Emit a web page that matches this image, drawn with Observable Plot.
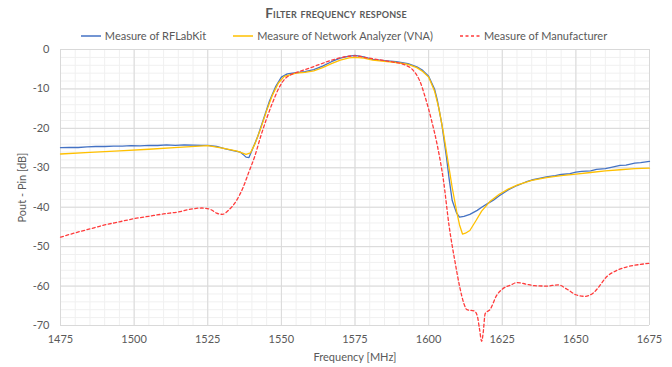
<!DOCTYPE html>
<html>
<head>
<meta charset="utf-8">
<script src="https://cdn.jsdelivr.net/npm/d3@7"></script>
<script src="https://cdn.jsdelivr.net/npm/@observablehq/plot@0.6"></script>
<style>
  body { margin: 0; background: #fff; font-family: Lato, "Open Sans", sans-serif; color: #595959; }
  #wrap { width: 672px; height: 367px; overflow: hidden; }
  #title { height: 26px; line-height: 27px; text-align: center; font-size: 13.5px; font-weight: bold; font-variant: small-caps; color: #595959; letter-spacing: 0.2px; }
  #legend { height: 16px; box-sizing: border-box; padding-top: 3px; display: flex; justify-content: center; align-items: center; gap: 27px; font-size: 11px; padding-left: 16px; }
  .item { display: flex; align-items: center; gap: 4px; }
  .item svg { display: block; }
</style>
</head>
<body>
<div id="wrap">
  <div id="title">Filter frequency response</div>
  <div id="legend"></div>
  <div id="chart"></div>
</div>
<script>
// Series names
const seriesNames = ["Measure of RFLabKit", "Measure of Network Analyzer (VNA)", "Measure of Manufacturer"];

// Measure of RFLabKit: frequency [MHz], value [dB]
const rflabF = [1475,1478,1481,1484,1487,1490,1493,1496,1499,1502,1505,1508,1511,1514,1517,1520,1523,1525,1528,1531,1534,1536,1537,1538,1539,1540,1542,1544,1546,1548,1550,1552,1555,1558,1561,1564,1567,1570,1573,1575,1578,1581,1585,1589,1593,1596,1598,1600,1602,1603,1604.5,1606,1607,1608,1609.5,1610.5,1612,1614,1616.5,1618,1620,1622,1624,1627,1630,1633,1635,1638,1640,1643,1645,1648,1650,1652,1655,1657,1660,1662,1665,1667,1670,1672,1675];
const rflabV = [-24.9,-24.8,-24.85,-24.7,-24.6,-24.6,-24.5,-24.5,-24.4,-24.45,-24.3,-24.35,-24.2,-24.3,-24.2,-24.25,-24.3,-24.3,-24.6,-25.2,-25.7,-26.0,-26.6,-27.3,-27.4,-25.6,-22.0,-17.5,-13.0,-9.5,-7.0,-6.2,-5.9,-5.6,-5.1,-4.2,-3.1,-2.2,-1.7,-1.5,-1.9,-2.5,-2.8,-3.1,-3.6,-4.4,-5.3,-6.8,-10.0,-13.0,-19.0,-27.0,-33.0,-38.3,-41.5,-42.5,-42.3,-41.8,-40.8,-40.0,-39.1,-38.2,-37.1,-35.6,-34.5,-33.6,-33.1,-32.6,-32.3,-32.0,-31.7,-31.5,-31.1,-30.9,-30.8,-30.4,-30.2,-29.9,-29.4,-29.3,-28.8,-28.7,-28.4];

// Measure of Network Analyzer (VNA)
const vnaF = [1475,1485,1495,1505,1515,1525,1530,1535,1538,1539.5,1541,1543,1545,1547,1549,1551,1555,1558,1561,1564,1567,1570,1573,1575,1578,1581,1585,1589,1593,1596,1598,1600,1602,1603.5,1605,1606.5,1608,1609.5,1610.5,1611.5,1612.5,1614,1616,1618,1621,1624,1627,1630,1635,1640,1645,1650,1655,1660,1665,1670,1675];
const vnaV = [-26.5,-26.1,-25.7,-25.3,-24.8,-24.4,-25.0,-25.8,-26.6,-26.2,-24.0,-20.0,-15.5,-11.5,-8.5,-6.8,-6.0,-5.8,-5.4,-4.6,-3.6,-2.7,-2.1,-2.0,-2.2,-2.7,-3.0,-3.3,-3.8,-4.6,-5.6,-7.0,-10.5,-15.0,-21.0,-28.0,-35.0,-41.0,-44.5,-46.8,-46.6,-45.9,-43.5,-41.0,-38.4,-36.7,-35.4,-34.4,-33.2,-32.5,-32.0,-31.6,-31.2,-30.8,-30.5,-30.2,-30.1];

// Measure of Manufacturer
const manuF = [1475,1480,1485,1490,1495,1500,1505,1510,1515,1520,1523,1526,1528,1530,1532,1535,1537,1539,1541,1543,1545,1547,1549,1551,1553,1556,1560,1564,1568,1572,1575,1579,1584,1588,1592,1595,1597,1599,1601,1603,1605,1607,1609,1610.5,1612,1613,1615.5,1616.5,1617.3,1618,1618.5,1619.2,1621,1623,1625,1628,1630,1633,1636,1640,1644,1647,1650,1653,1656,1658,1660,1664,1668,1672,1675];
const manuV = [-47.6,-46.5,-45.5,-44.5,-43.7,-42.9,-42.3,-41.7,-41.2,-40.4,-40.2,-40.6,-41.5,-41.8,-40.8,-38.0,-35.0,-31.0,-27.0,-22.0,-17.5,-13.5,-10.0,-7.6,-6.5,-5.6,-4.6,-3.5,-2.5,-1.8,-1.6,-2.1,-2.7,-3.2,-3.9,-5.5,-8.0,-12.5,-18.0,-24.5,-33.0,-45.0,-54.0,-60.0,-64.5,-66.0,-66.3,-67.5,-71.0,-74.0,-72.0,-67.0,-65.8,-62.5,-60.8,-59.7,-59.1,-59.5,-59.9,-60.0,-59.7,-60.8,-62.2,-62.6,-61.7,-60.0,-58.0,-56.0,-55.0,-54.5,-54.2];

// Ticks
const xTicks = [1475,1500,1525,1550,1575,1600,1625,1650,1675];
const yTicks = [0,-10,-20,-30,-40,-50,-60,-70];

const colors = ["#4472C4", "#FFC000", "#FF3B3B"];

const rows = [
  ...rflabF.map((f,i) => ({f, v: rflabV[i], s: seriesNames[0]})),
  ...vnaF.map((f,i) => ({f, v: vnaV[i], s: seriesNames[1]})),
  ...manuF.map((f,i) => ({f, v: manuV[i], s: seriesNames[2]}))
];

const xMinor = d3.range(1475, 1676, 5);
const yMinor = d3.range(-70, 1, 2);

const chart = Plot.plot({
  width: 672,
  height: 325,
  marginTop: 7,
  marginBottom: 42,
  marginLeft: 60,
  marginRight: 23,
  style: { fontFamily: "Lato, 'Open Sans', sans-serif", fontSize: "11px", color: "#595959", background: "#fff" },
  x: { domain: [1475, 1675] },
  y: { domain: [-70, 0] },
  marks: [
    Plot.ruleX(xMinor, { stroke: "#f0f0f0", strokeWidth: 1 }),
    Plot.ruleY(yMinor, { stroke: "#f0f0f0", strokeWidth: 1 }),
    Plot.ruleX(xTicks, { stroke: "#d9d9d9", strokeWidth: 1 }),
    Plot.ruleY(yTicks, { stroke: "#d9d9d9", strokeWidth: 1 }),
    Plot.axisX({ ticks: xTicks, tickSize: 0, tickPadding: 10, tickFormat: d => String(d), label: "Frequency [MHz]", labelAnchor: "center", labelArrow: "none", labelOffset: 35, fill: "#595959" }),
    Plot.axisY({ ticks: yTicks, tickSize: 0, tickPadding: 11, tickFormat: d => String(d), label: "Pout - Pin [dB]", labelAnchor: "center", labelArrow: "none", labelOffset: 42, fill: "#595959" }),
    Plot.line(rows.filter(d => d.s === seriesNames[0]), { x: "f", y: "v", stroke: colors[0], strokeWidth: 1.3 }),
    Plot.line(rows.filter(d => d.s === seriesNames[1]), { x: "f", y: "v", stroke: colors[1], strokeWidth: 1.3 }),
    Plot.line(rows.filter(d => d.s === seriesNames[2]), { x: "f", y: "v", stroke: colors[2], strokeWidth: 1.3, strokeDasharray: "3,2.5", curve: "monotone-x" })
  ]
});
document.getElementById("chart").appendChild(chart);

const legend = document.getElementById("legend");
seriesNames.forEach((name, i) => {
  const item = document.createElement("div");
  item.className = "item";
  const dash = i === 2 ? 'stroke-dasharray="3,2.5"' : '';
  item.innerHTML = `<svg width="20" height="6"><line x1="0" y1="3" x2="20" y2="3" stroke="${colors[i]}" stroke-width="1.5" ${dash}/></svg><span>${name}</span>`;
  legend.appendChild(item);
});
</script>
</body>
</html>
